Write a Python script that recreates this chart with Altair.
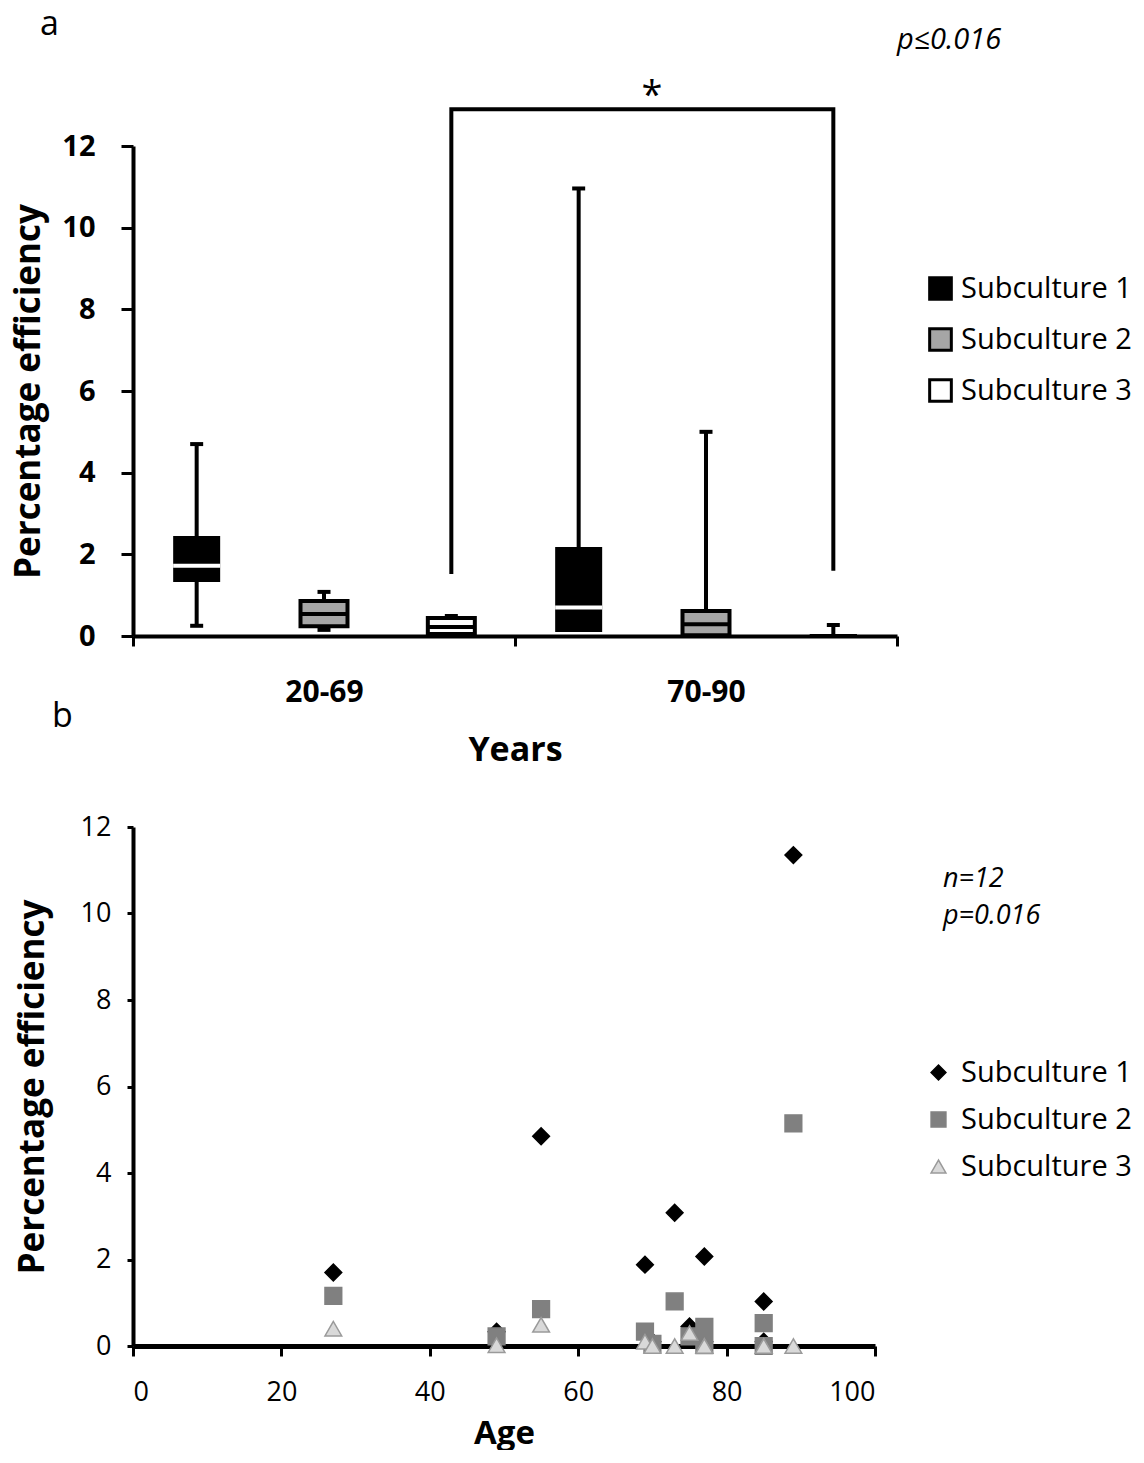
import altair as alt
import pandas as pd

FONT = "Open Sans"

# ---------- Panel a: box plot statistics ----------
groups = ["20-69", "20-69", "20-69", "70-90", "70-90", "70-90"]
subs = ["Subculture 1", "Subculture 2", "Subculture 3"] * 2
box_min = [0.25, 0.15, 0.00, 0.10, 0.00, 0.00]
box_q1 = [1.32, 0.24, 0.05, 0.10, 0.02, 0.00]
box_med = [1.72, 0.54, 0.22, 0.70, 0.29, 0.00]
box_q3 = [2.45, 0.86, 0.44, 2.18, 0.61, 0.00]
box_max = [4.70, 1.08, 0.49, 10.96, 5.00, 0.27]

sub_names = ["Subculture 1", "Subculture 2", "Subculture 3"]
group_names = ["20-69", "70-90"]

# bracket for the significance annotation
bracket_group = ["20-69", "20-69", "70-90", "70-90"]
bracket_sub = ["Subculture 3"] * 4
bracket_y = [1.52, 12.9, 12.9, 1.6]
bracket_order = [0, 1, 2, 3]

# ---------- Panel b: scatter values ----------
ages = [27, 49, 55, 69, 70, 73, 75, 77, 77, 85, 85, 89]
sub1_vals = [1.70, 0.33, 4.85, 1.88, 0.10, 3.08, 0.45, 2.07, 0.10, 1.03, 0.10, 11.35]
sub2_vals = [1.16, 0.22, 0.85, 0.33, 0.05, 1.03, 0.22, 0.44, 0.02, 0.53, 0.00, 5.15]
sub3_vals = [0.40, 0.02, 0.49, 0.10, 0.00, 0.00, 0.30, 0.00, 0.00, 0.00, 0.00, 0.00]

box_df = pd.DataFrame({
    "group": groups, "sub": subs, "mn": box_min, "q1": box_q1,
    "med": box_med, "q3": box_q3, "mx": box_max,
})
lower_df = box_df[box_df["mn"] < box_df["q1"] - 0.05]
bracket_df = pd.DataFrame({"group": bracket_group, "sub": bracket_sub,
                           "y": bracket_y, "o": bracket_order})

scatter_rows = []
for name, vals in zip(sub_names, [sub1_vals, sub2_vals, sub3_vals]):
    for a, v in zip(ages, vals):
        scatter_rows.append({"age": a, "val": v, "sub": name})
scatter_df = pd.DataFrame(scatter_rows)

W_A, H_A = 764, 490
W_B, H_B = 742, 519

x_a = alt.X("group:N", scale=alt.Scale(domain=group_names, paddingInner=0, paddingOuter=0),
            axis=alt.Axis(title="Years", labelFontSize=30, labelFontWeight="bold",
                          titleFontSize=34, titleFontWeight="bold", labelAngle=0,
                          domainWidth=4, tickWidth=3, tickSize=10, tickBand="extent",
                          labelPadding=31, titlePadding=26))
xo = alt.XOffset("sub:N", scale=alt.Scale(domain=sub_names, paddingInner=0, paddingOuter=0))
y_scale_a = alt.Scale(domain=[0, 12], nice=False)
y_axis_a = alt.Axis(title="Percentage efficiency", values=[0, 2, 4, 6, 8, 10, 12],
                    labelFontSize=29, labelFontWeight="bold", titleFontSize=35,
                    titleFontWeight="bold", domainWidth=4, tickWidth=3, tickSize=12,
                    labelPadding=26, titlePadding=15, grid=False)

base_a = alt.Chart(box_df)

whisker = base_a.mark_rule(color="black", strokeWidth=4).encode(
    x=x_a, xOffset=xo,
    y=alt.Y("mn:Q", scale=y_scale_a, axis=y_axis_a), y2="mx:Q")
cap_top = base_a.mark_tick(color="black", thickness=4, size=13, opacity=1).encode(
    x=x_a, xOffset=xo, y=alt.Y("mx:Q", scale=y_scale_a))
cap_bot = alt.Chart(lower_df).mark_tick(color="black", thickness=4, size=13, opacity=1).encode(
    x=x_a, xOffset=xo, y=alt.Y("mn:Q", scale=y_scale_a))
boxes = base_a.mark_bar(size=47, stroke="black", opacity=1).encode(
    x=x_a, xOffset=xo,
    y=alt.Y("q1:Q", scale=y_scale_a), y2="q3:Q",
    color=alt.Color("sub:N", scale=alt.Scale(domain=sub_names,
                                             range=["#000000", "#a6a6a6", "#ffffff"]),
                    legend=alt.Legend(title=None, orient="none", legendX=793, legendY=128,
                                      labelFontSize=29, symbolType="square", symbolSize=470,
                                      symbolStrokeColor="black", symbolStrokeWidth=3,
                                      rowPadding=16, labelOffset=6, padding=0,
                                      labelLimit=0)),
    strokeWidth=alt.condition(alt.datum.sub == "Subculture 1", alt.value(0), alt.value(4)),
)
medians = base_a.mark_tick(size=47, thickness=4, opacity=1).encode(
    x=x_a, xOffset=xo, y=alt.Y("med:Q", scale=y_scale_a),
    color=alt.condition(alt.datum.sub == "Subculture 1", alt.value("white"), alt.value("black")),
)
bracket = alt.Chart(bracket_df).mark_line(color="black", strokeWidth=4, clip=False).encode(
    x=x_a, xOffset=xo, y=alt.Y("y:Q", scale=y_scale_a), order="o:Q")

txt_a_label = alt.Chart(pd.DataFrame({"t": ["a"]})).mark_text(
    font=FONT, fontSize=34, align="left", baseline="alphabetic", color="black"
).encode(text="t:N", x=alt.value(-93), y=alt.value(-111))
txt_b_label = alt.Chart(pd.DataFrame({"t": ["b"]})).mark_text(
    font=FONT, fontSize=34, align="left", baseline="alphabetic", color="black"
).encode(text="t:N", x=alt.value(-81), y=alt.value(581))
txt_star = alt.Chart(pd.DataFrame({"t": ["*"]})).mark_text(
    font=FONT, fontSize=38, align="center", baseline="alphabetic", color="black"
).encode(text="t:N", x=alt.value(519), y=alt.value(-38))
txt_p = alt.Chart(pd.DataFrame({"t": ["p≤0.016"]})).mark_text(
    font=FONT, fontSize=29, fontStyle="italic", align="left", baseline="alphabetic",
    color="black"
).encode(text="t:N", x=alt.value(764), y=alt.value(-97))

panel_a = alt.layer(whisker, cap_top, cap_bot, boxes, medians, bracket,
                    txt_a_label, txt_b_label, txt_star, txt_p).properties(
    width=W_A, height=H_A)

# ---------- panel b ----------
leg_b = alt.Legend(title=None, orient="none", legendX=791, legendY=231,
                   labelFontSize=29, symbolSize=220, rowPadding=17,
                   labelOffset=8, padding=0, labelLimit=0)
points = alt.Chart(scatter_df).mark_point(filled=True, size=280, strokeWidth=1.5,
                                          opacity=1).encode(
    x=alt.X("age:Q", scale=alt.Scale(domain=[0, 100], nice=False),
            axis=alt.Axis(title="Age", values=[0, 20, 40, 60, 80, 100], labelFontSize=27,
                          titleFontSize=33, titleFontWeight="bold", domainWidth=5,
                          tickWidth=3, tickSize=10, labelPadding=23, titlePadding=12,
                          grid=False)),
    y=alt.Y("val:Q", scale=alt.Scale(domain=[0, 12], nice=False),
            axis=alt.Axis(title="Percentage efficiency", values=[0, 2, 4, 6, 8, 10, 12],
                          labelFontSize=27, titleFontSize=35, titleFontWeight="bold",
                          domainWidth=4, tickWidth=3, tickSize=6, labelPadding=16,
                          titlePadding=30, grid=False)),
    shape=alt.Shape("sub:N", scale=alt.Scale(domain=sub_names,
                                             range=["diamond", "square", "triangle-up"]),
                    legend=leg_b),
    fill=alt.Fill("sub:N", scale=alt.Scale(domain=sub_names,
                                           range=["#000000", "#808080", "#d9d9d9"]),
                  legend=leg_b),
    stroke=alt.Stroke("sub:N", scale=alt.Scale(domain=sub_names,
                                               range=["#000000", "#808080", "#9a9a9a"]),
                      legend=leg_b),
)
txt_n = alt.Chart(pd.DataFrame({"t": ["n=12"]})).mark_text(
    font=FONT, fontSize=27, fontStyle="italic", align="left", baseline="alphabetic",
    color="black"
).encode(text="t:N", x=alt.value(810), y=alt.value(60))
txt_pb = alt.Chart(pd.DataFrame({"t": ["p=0.016"]})).mark_text(
    font=FONT, fontSize=27, fontStyle="italic", align="left", baseline="alphabetic",
    color="black"
).encode(text="t:N", x=alt.value(810), y=alt.value(97))

panel_b = alt.layer(points, txt_n, txt_pb).properties(width=W_B, height=H_B)

chart = alt.vconcat(panel_a, panel_b, spacing=46).resolve_scale(
    color="independent", fill="independent", stroke="independent", shape="independent"
).resolve_legend(
    color="independent", fill="independent", stroke="independent", shape="independent"
).properties(
    padding={"left": 3, "top": 0, "right": 0, "bottom": 0}
).configure(
    font=FONT
).configure_axis(
    domainColor="black", tickColor="black", labelColor="black", titleColor="black",
    labelFont=FONT, titleFont=FONT
).configure_legend(
    labelFont=FONT, labelColor="black"
).configure_view(stroke=None)

chart.save("out.html", embed_options={"renderer": "svg", "actions": False})
